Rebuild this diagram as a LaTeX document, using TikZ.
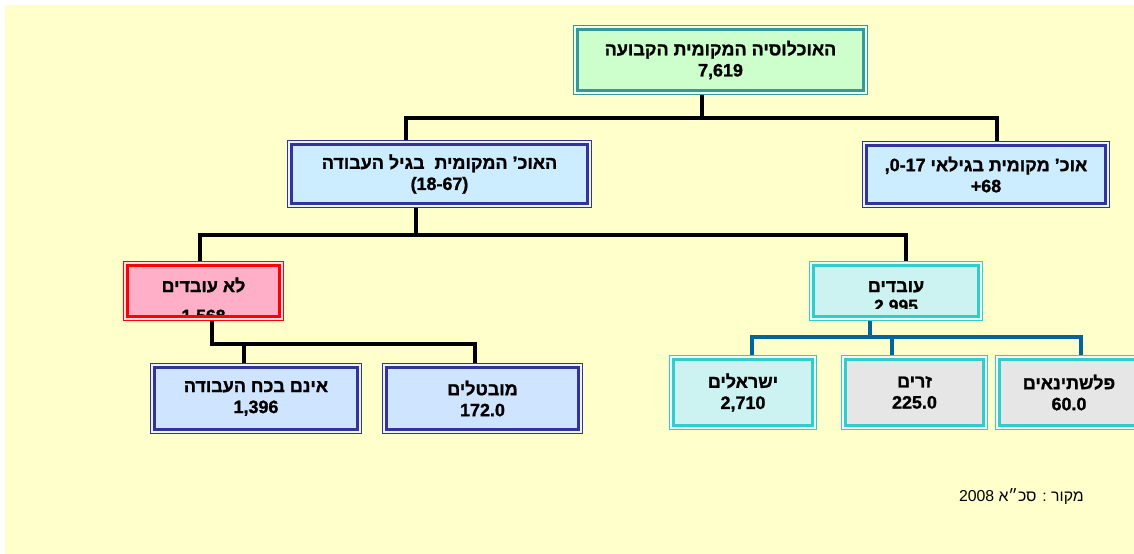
\documentclass[tikz,border=0pt]{standalone}
\usepackage{fontspec}
\setmainfont{Liberation Sans}
\newfontfamily\hebfont[Script=Hebrew]{Liberation Sans}
\newfontfamily\hebheavy[Script=Hebrew, FakeBold=1.2]{Liberation Sans Bold}
\newfontfamily\numheavy[FakeBold=1.2]{Liberation Sans Bold}
\TeXXeTstate=1
\newcommand{\heb}[1]{{\beginR#1\endR}}
\newcommand{\ltr}[1]{\beginL\hbox{\numheavy#1}\endL}
\newcommand{\boxfont}{\hebheavy\fontsize{10.2}{12}\selectfont}

\definecolor{paper}{HTML}{FFFFCC}
\definecolor{mint}{HTML}{CCFFCC}
\definecolor{tealline}{HTML}{339999}
\definecolor{sky}{HTML}{CCECFF}
\definecolor{navyline}{HTML}{333399}
\definecolor{rose}{HTML}{FFAFC8}
\definecolor{aqua}{HTML}{CCF2F2}
\definecolor{turq}{HTML}{33CCCC}
\definecolor{paleblue}{HTML}{CFE4FF}
\definecolor{greybox}{HTML}{E6E6E6}
\definecolor{steel}{HTML}{006699}

\begin{document}
\begin{tikzpicture}[x=0.02cm, y=-0.02cm,
    orgbox/.style 2 args={draw=#1, fill=#2, line width=1.7pt, inner sep=0pt, outer sep=2.55pt,
      align=center, font=\boxfont,
      preaction={draw=#1, line width=5.1pt},
      preaction={draw=#2!40!white, line width=3.9pt}},
    link/.style={line width=2.8pt}]
    \useasboundingbox (0,0) rectangle (1134,554);
    \fill[paper] (5,5) rectangle (1134,554);
    % Top of the tree
    \node[orgbox={tealline}{mint}, minimum width=5.72cm, minimum height=1.22cm] (total) at (720.5,60) {\heb{האוכלוסיה המקומית הקבועה}\\\numheavy 7,619};
    % Second level
    \node[orgbox={navyline}{sky}, minimum width=5.92cm, minimum height=1.18cm] (age) at (439.5,174) {\heb{האוכ’ המקומית\ \ בגיל העבודה}\\\numheavy (18-67)};
    \node[orgbox={navyline}{sky}, minimum width=4.78cm, minimum height=1.16cm] (rest) at (986,174.5) {\heb{אוכ’ מקומית בגילאי \ltr{,0-17}}\\\numheavy +68};
    % Third level, the numbers are cut by the box
    \node[orgbox={red}{rose}, minimum width=3.04cm, minimum height=1.02cm, path picture={
        \node[anchor=base] (idletitle) at ([yshift=-0.6pt]path picture bounding box.center) {\beginR לא עובדים\endR};
        \node[anchor=base, font=\numheavy] (idlenum) at ([yshift=-17.6pt]path picture bounding box.center) {1,568};
      }] (idle) at (203.5,291) {};
    \node[orgbox={turq}{aqua}, minimum width=3.30cm, minimum height=1.02cm, path picture={
        \clip (path picture bounding box.north west) rectangle ([yshift=4.8pt]path picture bounding box.south east);
        \node[anchor=base] (worktitle) at ([yshift=-0.6pt]path picture bounding box.center) {\beginR עובדים\endR};
        \node[anchor=base, font=\numheavy] (worknum) at ([yshift=-11.9pt]path picture bounding box.center) {2,995};
      }] (work) at (896,291) {};
    % Fourth level
    \node[orgbox={navyline}{paleblue}, minimum width=4.06cm, minimum height=1.24cm] (outside) at (256,398.5) {\heb{אינם בכח העבודה}\\\numheavy 1,396};
    \node[orgbox={navyline}{paleblue}, minimum width=3.84cm, minimum height=1.24cm] (jobless) at (482.5,398.5) {\heb{מובטלים}\\\numheavy 172.0};
    \node[orgbox={turq}{aqua}, minimum width=2.78cm, minimum height=1.32cm] (israeli) at (743,392.5) {\heb{ישראלים}\\\numheavy 2,710};
    \node[orgbox={turq}{greybox}, minimum width=2.76cm, minimum height=1.32cm] (foreign) at (914.5,392.5) {\heb{זרים}\\\numheavy 225.0};
    \node[orgbox={turq}{greybox}, minimum width=2.78cm, minimum height=1.32cm] (palest) at (1069,392.5) {\heb{פלשתינאים}\\\numheavy 60.0};
    % Connectors
    \coordinate (hubA) at (702,118);
    \coordinate (hubB) at (416,235);
    \coordinate (hubC) at (244,344);
    \coordinate (hubD) at (870,337);
    \coordinate (hubE) at (892,337);
    \draw[link] (total.south -| hubA) -- (hubA);
    \draw[link] (age.north -| 406,0) |- (997,118) -- (rest.north -| 997,0);
    \draw[link] (age.south -| hubB) -- (hubB);
    \draw[link] (idle.north -| 200,0) |- (906,235) -- (work.north -| 906,0);
    \draw[link] (idle.south -| 212,0) |- (475,344) -- (jobless.north -| 475,0);
    \draw[link] (hubC) -- (outside.north -| hubC);
    \draw[link, steel] (work.south -| hubD) -- (hubD);
    \draw[link, steel] (israeli.north -| 752,0) |- (1081,337) -- (palest.north -| 1081,0);
    \draw[link, steel] (hubE) -- (foreign.north -| hubE);
    % Source
    \node[anchor=east, font=\hebfont\fontsize{9}{11}\selectfont] (source) at (1090,497) {\heb{מקור : סכ״א \beginL2008\endL}};
\end{tikzpicture}
\end{document}
